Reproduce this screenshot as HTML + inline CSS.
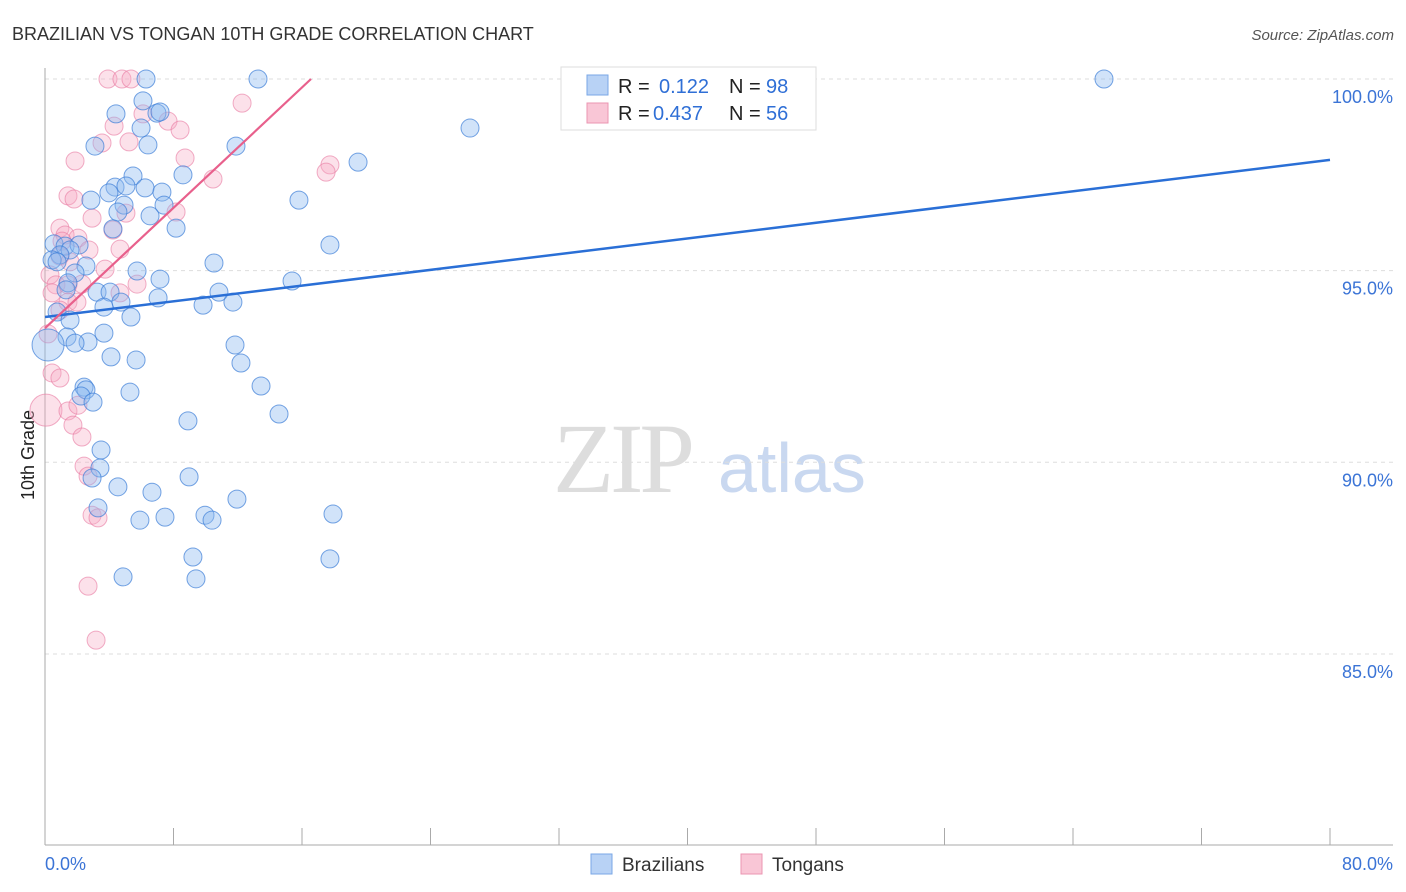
<!DOCTYPE html>
<html><head><meta charset="utf-8"><style>
body{margin:0;background:#fff;width:1406px;height:892px;overflow:hidden;font-family:"Liberation Sans",sans-serif}
svg{position:absolute;left:0;top:0}
</style></head><body>
<svg id="chart" width="1406" height="892">
<text x="12" y="40" font-size="18" fill="#333">BRAZILIAN VS TONGAN 10TH GRADE CORRELATION CHART</text>
<text x="1394" y="40" font-size="15" fill="#555" font-style="italic" text-anchor="end">Source: ZipAtlas.com</text>
<text transform="translate(34,455) rotate(-90)" font-size="18" fill="#222" text-anchor="middle">10th Grade</text>
<g>
<text x="553" y="492" font-size="100" fill="#ddd" font-family="Liberation Serif,serif" letter-spacing="-4">ZIP</text>
<text x="718" y="492" font-size="70" fill="#c9d8f0">atlas</text>
</g>
<g id="grid"></g><g id="pts"></g><g id="lines"></g>
<g>
<rect x="561" y="67" width="255" height="63" fill="#fff" stroke="#ddd"/>
<rect x="587" y="75" width="21" height="20" fill="#b8d2f5" stroke="#7aa7e6"/>
<rect x="587" y="103" width="21" height="20" fill="#f9c6d6" stroke="#eb95b2"/>
<text x="618" y="93" font-size="20" fill="#222">R =</text><text x="659" y="93" font-size="20" fill="#2f6fd6">0.122</text>
<text x="729" y="93" font-size="20" fill="#222">N =</text><text x="766" y="93" font-size="20" fill="#2f6fd6">98</text>
<text x="618" y="120" font-size="20" fill="#222">R =</text><text x="653" y="120" font-size="20" fill="#2f6fd6">0.437</text>
<text x="729" y="120" font-size="20" fill="#222">N =</text><text x="766" y="120" font-size="20" fill="#2f6fd6">56</text>
</g>
<g>
<rect x="591" y="854" width="21" height="20" fill="#b8d2f5" stroke="#7aa7e6"/>
<text x="622" y="871" font-size="19" fill="#333">Brazilians</text>
<rect x="741" y="854" width="21" height="20" fill="#f9c6d6" stroke="#eb95b2"/>
<text x="772" y="871" font-size="19" fill="#333">Tongans</text>
</g>
</svg>
<script>
const yTicks=[100,95,90,85];
const xTickLabels=["0.0%","80.0%"];
const blueX=[6.29,13.26,65.93,6.10,4.42,6.97,7.16,5.98,26.46,3.11,6.41,11.89,19.49,8.59,5.48,4.36,5.04,6.23,7.28,3.98,2.86,15.81,4.92,7.41,4.54,6.54,4.23,8.16,0.56,1.25,2.12,1.56,0.93,0.44,0.75,17.74,10.52,2.55,5.73,7.16,1.87,15.38,1.43,1.31,3.24,4.05,10.83,4.73,7.04,3.67,9.84,11.70,5.35,0.75,1.56,3.67,1.37,2.68,1.87,0.19,11.83,4.11,5.67,12.20,2.43,2.55,2.24,5.29,13.45,2.99,14.57,8.90,3.49,3.42,8.97,2.93,4.54,6.66,11.95,3.30,5.91,7.47,9.96,10.40,17.93,9.21,17.74,4.86,9.40];
const blueY=[100,100,100,99.43,99.09,99.11,99.14,98.72,98.72,98.25,98.28,98.25,97.83,97.50,97.47,97.18,97.21,97.16,97.05,97.03,96.84,96.84,96.71,96.71,96.53,96.43,96.09,96.11,95.70,95.64,95.67,95.54,95.41,95.28,95.23,95.67,95.20,95.12,94.99,94.78,94.94,94.73,94.68,94.50,94.44,94.44,94.44,94.18,94.29,94.05,94.10,94.18,93.79,93.92,93.71,93.37,93.27,93.14,93.11,93.06,93.06,92.75,92.67,92.59,91.96,91.89,91.73,91.83,91.99,91.57,91.26,91.08,90.32,89.85,89.62,89.59,89.36,89.22,89.04,88.81,88.49,88.57,88.62,88.49,88.65,87.53,87.48,87.01,86.96];
const blueBig=[59];
const pinkX=[3.92,4.79,5.35,12.27,6.10,4.30,7.66,8.41,3.55,1.87,8.72,5.23,17.74,17.50,10.46,1.43,1.81,8.16,5.04,2.93,0.93,4.23,1.25,2.05,1.06,4.67,2.74,0.93,1.56,3.74,0.31,0.68,1.43,2.30,5.73,4.67,1.43,1.99,0.44,0.93,0.19,0.44,0.93,0.06,1.43,2.05,1.74,2.30,2.43,2.68,2.93,3.30,2.68,3.18];
const pinkY=[100,100,100,99.37,99.09,98.77,98.90,98.67,98.33,97.86,97.94,98.36,97.76,97.57,97.39,96.95,96.87,96.53,96.50,96.37,96.11,96.06,95.93,95.85,95.77,95.56,95.54,95.38,95.23,95.04,94.89,94.63,94.63,94.65,94.65,94.42,94.18,94.18,94.42,93.97,93.35,92.33,92.20,91.36,91.34,91.49,90.97,90.66,89.90,89.64,88.62,88.55,86.77,85.36];
const pinkBig=[43];
const blueTrend=[93.79,97.89];
const pinkTrend=[93.50,0.3925];
const X=v=>45+v/80*1285, Y=v=>79+(100-v)*38.33;
const NS="http://www.w3.org/2000/svg";
function mk(t,a,p){const e=document.createElementNS(NS,t);for(const k in a)e.setAttribute(k,a[k]);p.appendChild(e);return e;}
const g=document.getElementById('grid');
yTicks.forEach(v=>{
 const l=mk('line',{x1:45,x2:1393,y1:Y(v),y2:Y(v),stroke:'#ddd','stroke-dasharray':'4,4'},g);
 
 
 const t=mk('text',{x:1393,y:Y(v)+24,'font-size':18,fill:'#3b74d6','text-anchor':'end'},g);
 t.textContent=v.toFixed(1)+'%';
 
 
});
mk('line',{x1:45,x2:45,y1:68,y2:845,stroke:'#aaa'},g);
mk('line',{x1:45,x2:1393,y1:845,y2:845,stroke:'#aaa'},g);
for(let i=1;i<=10;i++){mk('line',{x1:X(i*8),x2:X(i*8),y1:828,y2:845,stroke:'#aaa'},g);}
[[0,'start'],[80,'end']].forEach((d,i)=>{
 const t=mk('text',{x:i?1393:45,y:870,'font-size':18,fill:'#3b74d6','text-anchor':d[1]},g);
 t.textContent=xTickLabels[i];
 
 
});
const P=document.getElementById('pts');
pinkX.forEach((x,i)=>{
 const c=mk('circle',{cx:X(x),cy:Y(pinkY[i]),r:pinkBig.includes(i)?16:9,fill:'rgba(246,170,195,0.35)',stroke:'rgba(232,120,160,0.6)','stroke-width':1},P);
 
 
});
blueX.forEach((x,i)=>{
 const c=mk('circle',{cx:X(x),cy:Y(blueY[i]),r:blueBig.includes(i)?16:9,fill:'rgba(140,185,240,0.4)',stroke:'rgba(60,125,215,0.7)','stroke-width':1},P);
 
 
});
const L=document.getElementById('lines');
const bl=mk('line',{x1:X(0),y1:Y(blueTrend[0]),x2:X(80),y2:Y(blueTrend[1]),stroke:'#2a6fd6','stroke-width':2.5},L);


const xe=(100-pinkTrend[0])/pinkTrend[1];
const pl=mk('line',{x1:X(0),y1:Y(pinkTrend[0]),x2:X(xe),y2:Y(100),stroke:'#e8608c','stroke-width':2.2},L);


</script>
</body></html>
